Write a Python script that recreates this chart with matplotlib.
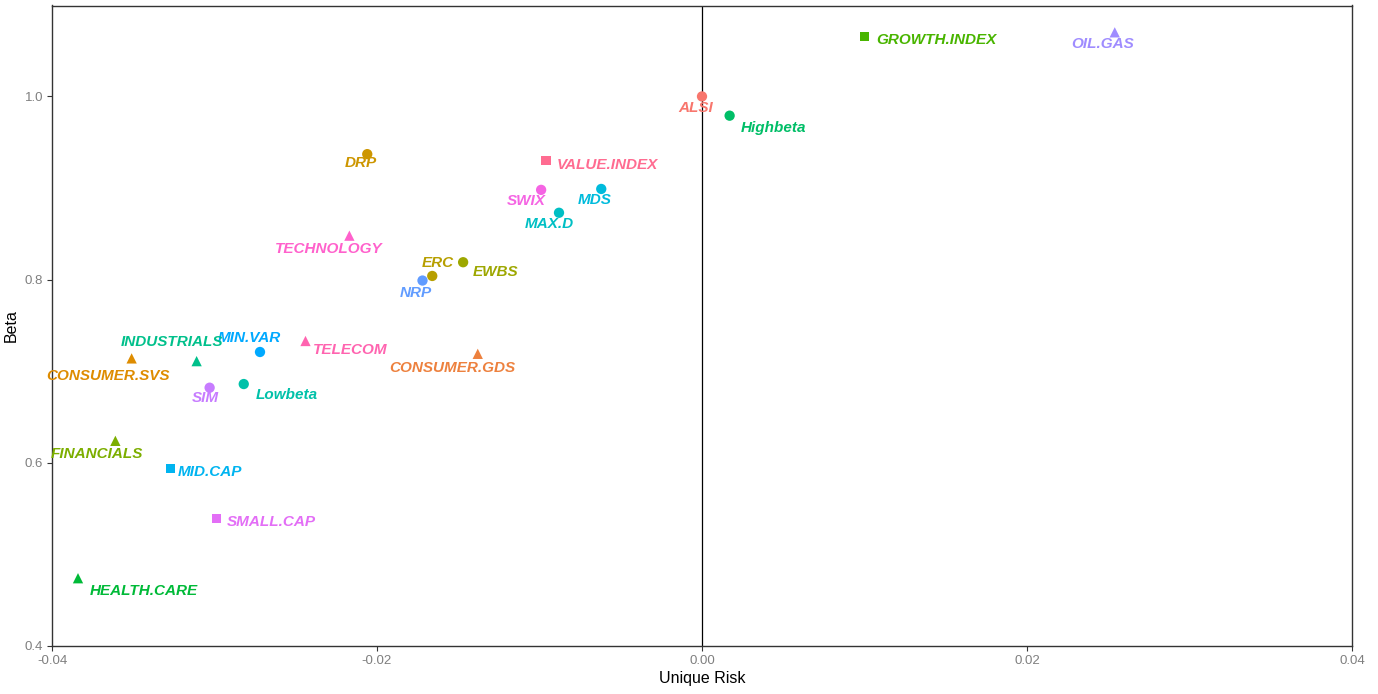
import numpy as np
import matplotlib
matplotlib.use("Agg")
import matplotlib.pyplot as plt
from matplotlib import font_manager

# Unique risk vs beta for each portfolio, sector and index
names = ["ALSI", "Highbeta", "GROWTH.INDEX", "OIL.GAS", "DRP", "VALUE.INDEX",
         "SWIX", "MDS", "MAX.D", "TECHNOLOGY", "ERC", "EWBS", "NRP", "TELECOM",
         "CONSUMER.GDS", "MIN.VAR", "INDUSTRIALS", "CONSUMER.SVS", "SIM",
         "Lowbeta", "FINANCIALS", "MID.CAP", "SMALL.CAP", "HEALTH.CARE"]
unique_risk = [0.0, 0.0017, 0.0100, 0.0254, -0.0206, -0.0096,
               -0.0099, -0.0062, -0.0088, -0.0217, -0.0166, -0.0147, -0.0172, -0.0244,
               -0.0138, -0.0272, -0.0311, -0.0351, -0.0303,
               -0.0282, -0.0361, -0.0327, -0.0299, -0.0384]
beta = [1.000, 0.979, 1.065, 1.070, 0.937, 0.930,
        0.898, 0.899, 0.873, 0.848, 0.804, 0.819, 0.799, 0.733,
        0.719, 0.721, 0.711, 0.714, 0.682,
        0.686, 0.624, 0.594, 0.539, 0.474]
group = ["Portfolio", "Portfolio", "Index", "Sector", "Portfolio", "Index",
         "Portfolio", "Portfolio", "Portfolio", "Sector", "Portfolio", "Portfolio", "Portfolio", "Sector",
         "Sector", "Portfolio", "Sector", "Sector", "Portfolio",
         "Portfolio", "Sector", "Index", "Index", "Sector"]

x_ticks = [-0.04, -0.02, 0.00, 0.02, 0.04]
x_ticklabels = ["-0.04", "-0.02", "0.00", "0.02", "0.04"]
y_ticks = [0.4, 0.6, 0.8, 1.0]
y_ticklabels = ["0.4", "0.6", "0.8", "1.0"]

# label offsets from each point, in pixels (right, down)
label_offset = {
    "ALSI": (-6, 12), "Highbeta": (44, 12), "GROWTH.INDEX": (72, 3), "OIL.GAS": (-12, 12),
    "DRP": (-6, 9), "VALUE.INDEX": (61, 4), "SWIX": (-15, 11), "MDS": (-7, 11),
    "MAX.D": (-10, 11), "TECHNOLOGY": (-21, 13), "ERC": (6, -13), "EWBS": (32, 10),
    "NRP": (-7, 12), "TELECOM": (45, 9), "CONSUMER.GDS": (-25, 14), "MIN.VAR": (-11, -14),
    "INDUSTRIALS": (-25, -19), "CONSUMER.SVS": (-24, 18), "SIM": (-4, 10),
    "Lowbeta": (43, 11), "FINANCIALS": (-18, 13), "MID.CAP": (39, 4),
    "SMALL.CAP": (55, 3), "HEALTH.CARE": (66, 13),
}
shape_of = {"Portfolio": "o", "Sector": "^", "Index": "s"}
size_of = {"Portfolio": 55, "Sector": 55, "Index": 42}


def hcl_hex(h, c=100.0, l=65.0):
    """HCL (polar CIE-LUV, D65) to an sRGB hex string, clipped to gamut."""
    xn, yn, zn = 95.047, 100.000, 108.883
    u_ = c * np.cos(np.radians(h))
    v_ = c * np.sin(np.radians(h))
    y = yn * ((l + 16) / 116) ** 3 if l > 8 else yn * l / 903.3
    den = xn + 15 * yn + 3 * zn
    un, vn = 4 * xn / den, 9 * yn / den
    u = u_ / (13 * l) + un
    v = v_ / (13 * l) + vn
    x = 9.0 * y * u / (4 * v)
    z = -x / 3 - 5 * y + 3 * y / v
    xyz = np.array([x, y, z]) / 100.0
    m = np.array([[3.240479, -1.537150, -0.498535],
                  [-0.969256, 1.875992, 0.041556],
                  [0.055648, -0.204043, 1.057311]])
    rgb = m @ xyz

    def gam(t):
        return 12.92 * t if t <= 0.0031308 else 1.055 * t ** (1 / 2.4) - 0.055

    rgb = [min(max(gam(t), 0.0), 1.0) for t in rgb]
    return "#%02X%02X%02X" % tuple(int(round(t * 255)) for t in rgb)


# discrete hue palette over the alphabetically sorted names
levels = sorted(names, key=lambda s: s.lower())
n = len(levels)
hues = np.linspace(15, 375, n + 1)[:-1]
colour = {lev: hcl_hex(h) for lev, h in zip(levels, hues)}

avail = {f.name for f in font_manager.fontManager.ttflist}
narrow = "Liberation Sans Narrow" if "Liberation Sans Narrow" in avail else "Liberation Sans"

W, H, DPI = 1378, 694, 100
fig = plt.figure(figsize=(W / DPI, H / DPI), dpi=DPI)
ax = fig.add_axes([52 / W, 1 - 646 / H, 1300 / W, 640.5 / H])

ax.axvline(0, color="black", lw=0.9, zorder=1)

for nm, xv, yv, g in zip(names, unique_risk, beta, group):
    col = colour[nm]
    ax.scatter([xv], [yv], marker=shape_of[g], s=size_of[g], color=col,
               edgecolors="none", zorder=3)
    dx, dy = label_offset[nm]
    ax.annotate(nm, (xv, yv), xytext=(dx * 0.72, -dy * 0.72), textcoords="offset points",
                ha="center", va="center", color=col, fontsize=11,
                fontweight="bold", fontstyle="italic", family="Liberation Sans",
                zorder=4)

ax.set_xlim(-0.04, 0.04)
ax.set_ylim(0.4, 1.0 + (96.5 - 5.5) / 916.5)
ax.set_xticks(x_ticks)
ax.set_xticklabels(x_ticklabels)
ax.set_yticks(y_ticks)
ax.set_yticklabels(y_ticklabels)
ax.tick_params(axis="both", direction="out", length=3.5, width=0.8, color="#333333",
               labelcolor="#7F7F7F", labelsize=9.5, pad=3)
for lab in ax.get_xticklabels() + ax.get_yticklabels():
    lab.set_family(narrow)
for sp in ax.spines.values():
    sp.set_color("#333333")
    sp.set_linewidth(1.0)

ax.set_xlabel("Unique Risk", family=narrow, fontsize=11.5, color="black", labelpad=3)
ax.set_ylabel("Beta", family=narrow, fontsize=11.5, color="black", labelpad=4)

fig.savefig("out.png", dpi=DPI, facecolor="white")
